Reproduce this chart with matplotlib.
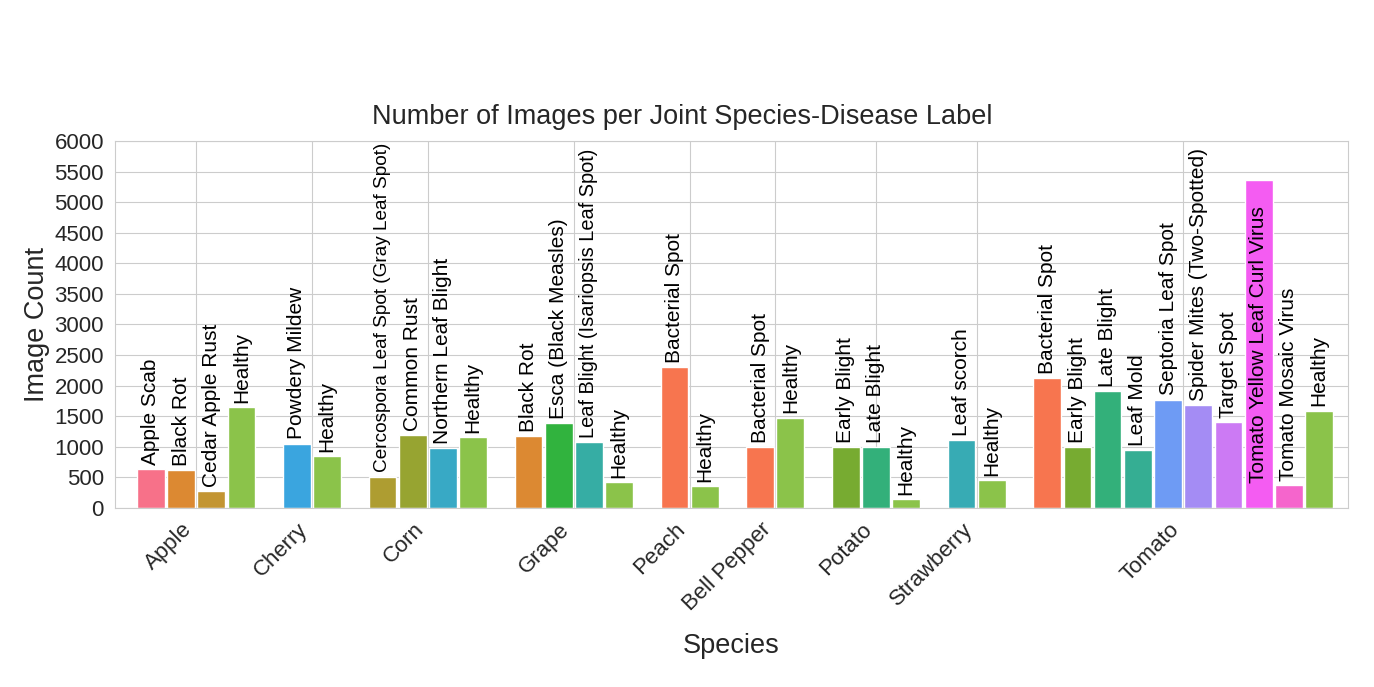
import matplotlib
matplotlib.use("Agg")
import matplotlib.pyplot as plt
import seaborn as sns

# data: PlantVillage image counts, grouped by species
species = ["Apple", "Cherry", "Corn", "Grape", "Peach", "Bell Pepper",
           "Potato", "Strawberry", "Tomato"]

diseases = [
    ["Apple Scab", "Black Rot", "Cedar Apple Rust", "Healthy"],
    ["Powdery Mildew", "Healthy"],
    ["Cercospora Leaf Spot (Gray Leaf Spot)", "Common Rust", "Northern Leaf Blight", "Healthy"],
    ["Black Rot", "Esca (Black Measles)", "Leaf Blight (Isariopsis Leaf Spot)", "Healthy"],
    ["Bacterial Spot", "Healthy"],
    ["Bacterial Spot", "Healthy"],
    ["Early Blight", "Late Blight", "Healthy"],
    ["Leaf scorch", "Healthy"],
    ["Bacterial Spot", "Early Blight", "Late Blight", "Leaf Mold", "Septoria Leaf Spot",
     "Spider Mites (Two-Spotted)", "Target Spot", "Tomato Yellow Leaf Curl Virus",
     "Tomato Mosaic Virus", "Healthy"],
]

counts = [
    [630, 621, 275, 1645],
    [1052, 854],
    [513, 1192, 985, 1162],
    [1180, 1383, 1076, 423],
    [2297, 360],
    [997, 1478],
    [1000, 1000, 152],
    [1109, 456],
    [2127, 1000, 1909, 952, 1771, 1676, 1404, 5357, 373, 1591],
]

# original folder names of the diseases, used for the colour order
raw_keys = [
    ["Apple_scab", "Black_rot", "Cedar_apple_rust", "healthy"],
    ["Powdery_mildew", "healthy"],
    ["Cercospora_leaf_spot Gray_leaf_spot", "Common_rust_", "Northern_Leaf_Blight", "healthy"],
    ["Black_rot", "Esca_(Black_Measles)", "Leaf_blight_(Isariopsis_Leaf_Spot)", "healthy"],
    ["Bacterial_spot", "healthy"],
    ["Bacterial_spot", "healthy"],
    ["Early_blight", "Late_blight", "healthy"],
    ["Leaf_scorch", "healthy"],
    ["Bacterial_spot", "Early_blight", "Late_blight", "Leaf_Mold", "Septoria_leaf_spot",
     "Spider_mites Two-spotted_spider_mite", "Target_Spot", "Tomato_Yellow_Leaf_Curl_Virus",
     "Tomato_mosaic_virus", "healthy"],
]

sns.set_style("whitegrid")
plt.rcParams["font.family"] = ["Liberation Sans", "DejaVu Sans"]

unique_keys = sorted({k for grp in raw_keys for k in grp})
pal = sns.husl_palette(len(unique_keys))
color_of = {k: pal[i] for i, k in enumerate(unique_keys)}
color_of["healthy"] = "#8bc34a"

small_labels = {"Cercospora Leaf Spot (Gray Leaf Spot)": 13.7,
                "Leaf Blight (Isariopsis Leaf Spot)": 14.4}

fig = plt.figure(figsize=(13.74, 6.87), dpi=100)
ax = fig.add_axes([0.0837, 0.2606, 0.8974, 0.5342])

gap = 1.834
x = 0.0
tick_pos = []
for sp, dis, cnt, keys in zip(species, diseases, counts, raw_keys):
    xs = [x + i for i in range(len(cnt))]
    ax.bar(xs, cnt, width=0.92, color=[color_of[k] for k in keys],
           edgecolor="white", linewidth=1)
    for xi, h, lab in zip(xs, cnt, dis):
        fs = small_labels.get(lab, 15)
        if h > 4000:
            # too tall to fit above, write it inside the bar
            ax.text(xi, h / 2, lab, rotation=90, ha="center", va="center",
                    color="black", fontsize=fs)
        else:
            ax.annotate(lab, (xi, h), xytext=(0, 3), textcoords="offset points",
                        rotation=90, ha="center", va="bottom", color="black",
                        fontsize=fs)
    tick_pos.append(sum(xs) / len(xs))
    x = xs[-1] + gap

ax.set_xlim(-1.19, x - gap + 0.96)
ax.set_ylim(0, 6000)
ax.set_yticks(range(0, 6001, 500))
ax.set_xticks(tick_pos)
ax.set_xticklabels(species, rotation=45, ha="right")
ax.tick_params(axis="both", labelsize=16, size=0, pad=8)

ax.set_title("Number of Images per Joint Species-Disease Label", fontsize=19.5,
             pad=12, x=0.46)
ax.set_xlabel("Species", fontsize=19.5, labelpad=13)
ax.set_ylabel("Image Count", fontsize=19.5, labelpad=3)

fig.savefig("out.png", dpi=100)
